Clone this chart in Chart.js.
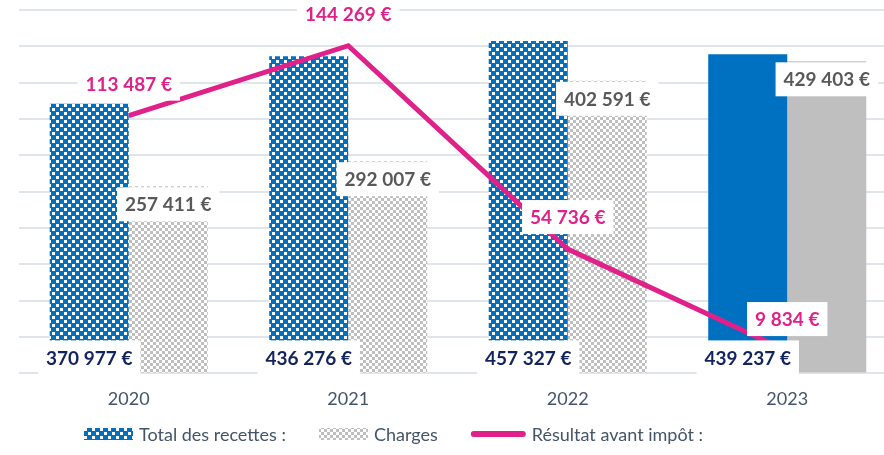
<!DOCTYPE html>
<html lang="fr">
<head>
<meta charset="utf-8">
<script src="https://cdn.jsdelivr.net/npm/chart.js@4.4.0/dist/chart.umd.min.js"></script>
<style>
  html, body { margin: 0; background: #fff; overflow: hidden; }
  #wrap { width: 897px; height: 455px; position: relative; }
</style>
</head>
<body>
<div id="wrap"><canvas id="chart"></canvas></div>
<script>
const years = ["2020", "2021", "2022", "2023"];
const recettes = [370977, 436276, 457327, 439237];
const charges = [257411, 292007, 402591, 429403];
const resultat = [113487, 144269, 54736, 9834];
const seriesNames = ["Total des recettes :", "Charges", "Résultat avant impôt :"];

const BLUE = "#0070c0";
const GREY = "#bfbfbf";
const PINK = "#e0218a";
const TEXT = "#44546a";
const FONT = "Lato, 'Open Sans', sans-serif";

// small checker tile: coloured background with white squares
function checkerCanvas(color, cell, hole) {
  const c = document.createElement("canvas");
  c.width = c.height = cell * 2;
  const g = c.getContext("2d");
  g.fillStyle = color;
  g.fillRect(0, 0, cell * 2, cell * 2);
  g.fillStyle = "#fff";
  g.fillRect(0, 0, hole, hole);
  g.fillRect(cell, cell, hole, hole);
  return c;
}

const ctx2d = document.getElementById("chart").getContext("2d");
const bluePat = ctx2d.createPattern(checkerCanvas(BLUE, 4, 3), "repeat");
const greyPat = ctx2d.createPattern(checkerCanvas(GREY, 3, 3), "repeat");

// last year is drawn solid, earlier ones hatched
const lastSolid = (pat, solid) => (c) => (c.dataIndex === years.length - 1 ? solid : pat);

function euro(v) {
  return String(v).replace(/\B(?=(\d{3})+(?!\d))/g, " ") + " €";
}

const labelStyle = [
  { at: "base", color: "#13235e" },
  { at: "end", color: "#595959" },
  { at: "above", color: PINK },
];

const valueLabels = {
  id: "valueLabels",
  afterDatasetsDraw(chart) {
    const ctx = chart.ctx;
    ctx.save();
    ctx.font = "bold 19px " + FONT;
    ctx.textAlign = "center";
    ctx.textBaseline = "middle";
    chart.data.datasets.forEach((ds, i) => {
      const st = labelStyle[i];
      chart.getDatasetMeta(i).data.forEach((el, j) => {
        const text = euro(ds.data[j]);
        const w = ctx.measureText(text).width + 16, h = 34;
        let cy;
        if (st.at === "base") cy = el.base - h / 2 + 2;
        else if (st.at === "end") cy = el.y + h / 2 + 1;
        else cy = el.y - 32;
        ctx.fillStyle = "#fff";
        ctx.fillRect(el.x - w / 2, cy - h / 2, w, h);
        ctx.fillStyle = st.color;
        ctx.fillText(text, el.x, cy + 1);
      });
    });
    ctx.restore();
  },
};

const bottomLegend = {
  id: "bottomLegend",
  afterDraw(chart) {
    const ctx = chart.ctx;
    const y = 434;
    let x = 84;
    ctx.save();
    ctx.font = "18px " + FONT;
    ctx.textBaseline = "middle";
    ctx.textAlign = "left";
    chart.data.datasets.forEach((ds) => {
      let w;
      if (ds.type === "line") {
        w = 55;
        ctx.strokeStyle = ds.borderColor;
        ctx.lineWidth = 6;
        ctx.lineCap = "round";
        ctx.beginPath();
        ctx.moveTo(x + 3, y);
        ctx.lineTo(x + w - 3, y);
        ctx.stroke();
      } else {
        w = 49;
        ctx.fillStyle = ds.legendFill;
        ctx.fillRect(x, y - 6, w, 12);
      }
      x += w + 6;
      ctx.fillStyle = TEXT;
      ctx.fillText(ds.label, x, y + 1);
      x += ctx.measureText(ds.label).width + 33;
    });
    ctx.restore();
  },
};

new Chart(ctx2d, {
  type: "bar",
  data: {
    labels: years,
    datasets: [
      {
        label: seriesNames[0],
        data: recettes,
        backgroundColor: lastSolid(bluePat, BLUE),
        legendFill: bluePat,
        borderWidth: 0,
        categoryPercentage: 0.72,
        barPercentage: 1,
        order: 2,
      },
      {
        label: seriesNames[1],
        data: charges,
        backgroundColor: lastSolid(greyPat, GREY),
        legendFill: greyPat,
        borderWidth: 0,
        categoryPercentage: 0.72,
        barPercentage: 1,
        order: 2,
      },
      {
        type: "line",
        label: seriesNames[2],
        data: resultat,
        yAxisID: "y1",
        borderColor: PINK,
        borderWidth: 5,
        pointRadius: 0,
        tension: 0,
        order: 0,
      },
    ],
  },
  plugins: [valueLabels, bottomLegend],
  options: {
    responsive: true,
    maintainAspectRatio: false,
    animation: false,
    layout: { padding: { top: 10, left: 19, right: 0, bottom: 30 } },
    plugins: { legend: { display: false }, tooltip: { enabled: false } },
    scales: {
      x: {
        grid: { display: false, drawTicks: false },
        border: { display: false },
        ticks: { color: TEXT, font: { family: FONT, size: 18 }, padding: 15 },
      },
      y: {
        min: 0,
        max: 500000,
        ticks: { display: false, stepSize: 50000 },
        grid: { color: "#e0e4eb", lineWidth: 2, drawTicks: false },
        border: { display: false },
      },
      y1: {
        display: false,
        min: 0,
        max: 160000,
      },
    },
  },
});
</script>
</body>
</html>
